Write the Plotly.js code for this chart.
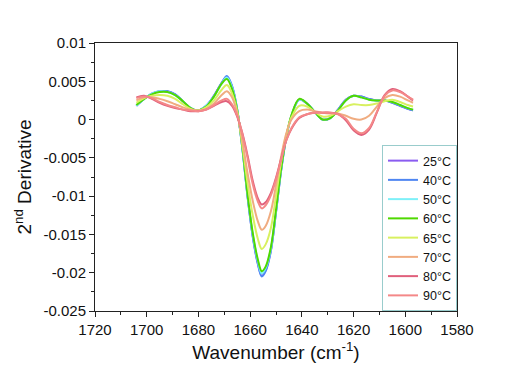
<!DOCTYPE html>
<html>
<head>
<meta charset="utf-8">
<script src="https://cdn.plot.ly/plotly-3.0.1.min.js"></script>
<style>html,body{margin:0;padding:0;background:#fff;}#chart{width:532px;height:375px;}</style>
</head>
<body>
<div id="chart"></div>
<script>
const wavenumber = [1704,1701,1698,1695,1692,1689,1686,1683,1680,1677,1674,1671,1669,1667,1665,1663,1661,1659,1657,1655.5,1654,1652,1650,1648,1646,1644,1641,1638,1635,1632,1629,1626,1623,1620,1617,1614,1611,1608,1605,1602,1599,1597];

const t25 = [0.0018,0.0027,0.0034,0.0037,0.0037,0.0033,0.0024,0.0015,0.0012,0.0018,0.0031,0.0048,0.0056,0.0043,0.0013,-0.0038,-0.0100,-0.0152,-0.0188,-0.0204,-0.0197,-0.0171,-0.0121,-0.0066,-0.0023,0.0005,0.0026,0.0021,0.0010,0.0000,0.0002,0.0013,0.0026,0.0031,0.0030,0.0027,0.0025,0.0025,0.0022,0.0018,0.0014,0.0012];
const t40 = [0.0018,0.0027,0.0034,0.0037,0.0037,0.0033,0.0024,0.0015,0.0012,0.0018,0.0031,0.0048,0.0057,0.0044,0.0013,-0.0038,-0.0101,-0.0153,-0.0189,-0.0205,-0.0198,-0.0172,-0.0121,-0.0066,-0.0023,0.0005,0.0026,0.0021,0.0010,0.0000,0.0002,0.0013,0.0026,0.0031,0.0030,0.0027,0.0025,0.0025,0.0022,0.0018,0.0014,0.0012];
const t50 = [0.0018,0.0027,0.0034,0.0037,0.0036,0.0032,0.0024,0.0015,0.0012,0.0018,0.0030,0.0047,0.0055,0.0042,0.0013,-0.0038,-0.0099,-0.0150,-0.0185,-0.0201,-0.0194,-0.0169,-0.0120,-0.0065,-0.0023,0.0005,0.0026,0.0021,0.0010,0.0000,0.0002,0.0012,0.0025,0.0031,0.0029,0.0026,0.0025,0.0025,0.0023,0.0019,0.0015,0.0013];
const t60 = [0.0019,0.0027,0.0033,0.0036,0.0036,0.0032,0.0024,0.0015,0.0012,0.0017,0.0030,0.0047,0.0053,0.0040,0.0012,-0.0036,-0.0098,-0.0148,-0.0183,-0.0198,-0.0192,-0.0167,-0.0118,-0.0064,-0.0022,0.0006,0.0027,0.0021,0.0010,0.0000,0.0002,0.0012,0.0025,0.0031,0.0029,0.0026,0.0025,0.0025,0.0023,0.0019,0.0015,0.0013];
const t65 = [0.0022,0.0028,0.0031,0.0032,0.0031,0.0027,0.0020,0.0014,0.0012,0.0016,0.0025,0.0039,0.0045,0.0034,0.0010,-0.0033,-0.0083,-0.0125,-0.0156,-0.0169,-0.0163,-0.0142,-0.0100,-0.0055,-0.0020,0.0003,0.0018,0.0017,0.0010,0.0004,0.0005,0.0011,0.0017,0.0020,0.0019,0.0019,0.0021,0.0024,0.0026,0.0023,0.0019,0.0017];
const t70 = [0.0025,0.0029,0.0029,0.0027,0.0024,0.0020,0.0016,0.0013,0.0012,0.0014,0.0021,0.0032,0.0037,0.0029,0.0008,-0.0028,-0.0070,-0.0106,-0.0133,-0.0144,-0.0139,-0.0120,-0.0086,-0.0048,-0.0018,0.0000,0.0011,0.0013,0.0011,0.0009,0.0008,0.0008,0.0005,0.0001,0.0000,0.0005,0.0017,0.0028,0.0032,0.0030,0.0025,0.0022];
const t80 = [0.0029,0.0031,0.0027,0.0022,0.0018,0.0015,0.0013,0.0011,0.0011,0.0013,0.0018,0.0023,0.0024,0.0018,0.0004,-0.0018,-0.0047,-0.0080,-0.0103,-0.0111,-0.0108,-0.0096,-0.0076,-0.0051,-0.0027,-0.0012,0.0002,0.0007,0.0009,0.0009,0.0009,0.0007,-0.0001,-0.0014,-0.0020,-0.0013,0.0009,0.0032,0.0040,0.0037,0.0030,0.0025];
const t90 = [0.0028,0.0030,0.0028,0.0023,0.0019,0.0016,0.0013,0.0012,0.0011,0.0013,0.0019,0.0025,0.0027,0.0020,0.0005,-0.0019,-0.0050,-0.0084,-0.0107,-0.0116,-0.0112,-0.0099,-0.0078,-0.0052,-0.0027,-0.0011,0.0003,0.0007,0.0009,0.0009,0.0009,0.0007,0.0001,-0.0012,-0.0018,-0.0011,0.0010,0.0031,0.0038,0.0036,0.0030,0.0026];

const seriesNames = ['25\u00B0C','40\u00B0C','50\u00B0C','60\u00B0C','65\u00B0C','70\u00B0C','80\u00B0C','90\u00B0C'];
const seriesValues = [t25,t40,t50,t60,t65,t70,t80,t90];
const seriesColors = ['#8a5cf0','#4f86f2','#7ef0f8','#4fd800','#d8f060','#f0ac80','#e0607c','#f48888'];

const yTickVals = [0.01,0.005,0,-0.005,-0.01,-0.015,-0.02,-0.025];
const yTickText = ['0.01','0.005','0','-0.005','-0.01','-0.015','-0.02','-0.025'];
const xTickVals = [1720,1700,1680,1660,1640,1620,1600,1580];
const xTickText = ['1720','1700','1680','1660','1640','1620','1600','1580'];

const traces = seriesNames.map((n,i)=>({
  x: wavenumber, y: seriesValues[i], name: n, type:'scatter', mode:'lines',
  line:{color: seriesColors[i], width: 2, shape:'spline', smoothing:1}
}));

const axisCommon = {
  showline:true, linecolor:'#222', linewidth:1, mirror:true,
  ticks:'outside', ticklen:5, tickcolor:'#222', showgrid:false, zeroline:false,
  tickfont:{family:'Liberation Sans, Arial, sans-serif', size:15, color:'#111'}
};

const layout = {
  width:532, height:375,
  margin:{l:95, r:75, t:43, b:64},
  paper_bgcolor:'#fff', plot_bgcolor:'#fff',
  showlegend:true,
  legend:{x:1, xanchor:'right', y:0, yanchor:'bottom', bgcolor:'#fff', bordercolor:'#99cccc', borderwidth:1,
    font:{family:'Liberation Sans, Arial, sans-serif', size:12.5, color:'#111'}, tracegroupgap:0},
  xaxis: Object.assign({}, axisCommon, {
    range:[1720,1580], tickmode:'array', tickvals:xTickVals, ticktext:xTickText,
    minor:{tickmode:'linear', tick0:1710, dtick:20, ticks:'outside', ticklen:3, tickcolor:'#222', showgrid:false},
    title:{text:'Wavenumber (cm<sup>-1</sup>)', font:{family:'Liberation Sans, Arial, sans-serif', size:19, color:'#111'}, standoff:8}
  }),
  yaxis: Object.assign({}, axisCommon, {
    range:[-0.025,0.01], tickmode:'array', tickvals:yTickVals, ticktext:yTickText,
    minor:{tickmode:'linear', tick0:0.0025, dtick:0.005, ticks:'outside', ticklen:3, tickcolor:'#222', showgrid:false},
    title:{text:'2<sup>nd</sup> Derivative', font:{family:'Liberation Sans, Arial, sans-serif', size:19, color:'#111'}, standoff:6}
  })
};

Plotly.newPlot('chart', traces, layout, {displayModeBar:false, staticPlot:true});
</script>
</body>
</html>
